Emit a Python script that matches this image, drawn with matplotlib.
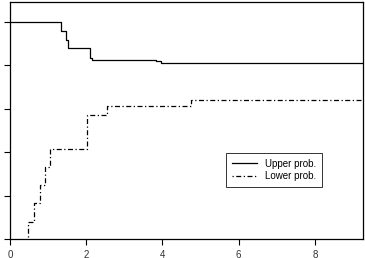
import matplotlib

matplotlib.use("Agg")
import matplotlib.pyplot as plt

# step curves (x = jump position, y = value after jump)
upper_x = [0.0, 1.35, 1.46, 1.51, 2.10, 2.14, 3.83, 3.97, 9.3]
upper_y = [1.0, 0.958, 0.918, 0.879, 0.833, 0.825, 0.818, 0.81, 0.81]

lower_x = [0.47, 0.47, 0.63, 0.79, 0.91, 1.05, 2.01, 2.55, 4.75, 9.3]
lower_y = [0.01, 0.08, 0.167, 0.249, 0.33, 0.413, 0.571, 0.613, 0.64, 0.64]

x_ticks = [0, 2, 4, 6, 8]
y_ticks = [0.0, 0.2, 0.4, 0.6, 0.8, 1.0]

plt.rcParams["font.family"] = ["Liberation Sans", "DejaVu Sans"]

fig = plt.figure(figsize=(3.65, 2.58), dpi=100)
ax = fig.add_axes([10 / 365, 19 / 258, 353 / 365, 237 / 258])

ax.plot(upper_x, upper_y, drawstyle="steps-post", color="black", lw=0.9,
        label="Upper prob.")
ax.plot(lower_x, lower_y, drawstyle="steps-post", color="black", lw=0.9,
        ls=(0, (1, 2, 4, 2)), label="Lower prob.")

ax.set_xlim(0, 9.26)
ax.set_ylim(0, 1.092)
ax.set_xticks(x_ticks)
ax.set_xticklabels([str(t) for t in x_ticks], fontsize=7, color="#333333")
ax.set_yticks(y_ticks)
ax.set_yticklabels([])
ax.tick_params(direction="out", length=4, width=0.8, pad=4)
for s in ax.spines.values():
    s.set_linewidth(0.9)

leg = ax.legend(loc="upper left", bbox_to_anchor=(211 / 353, 1 - 146 / 237),
                fontsize=7, frameon=True, fancybox=False, edgecolor="black",
                handlelength=2.6, borderpad=0.6, labelspacing=0.25)
leg.get_frame().set_linewidth(0.7)

fig.savefig("out.png", dpi=100)
plt.close(fig)
